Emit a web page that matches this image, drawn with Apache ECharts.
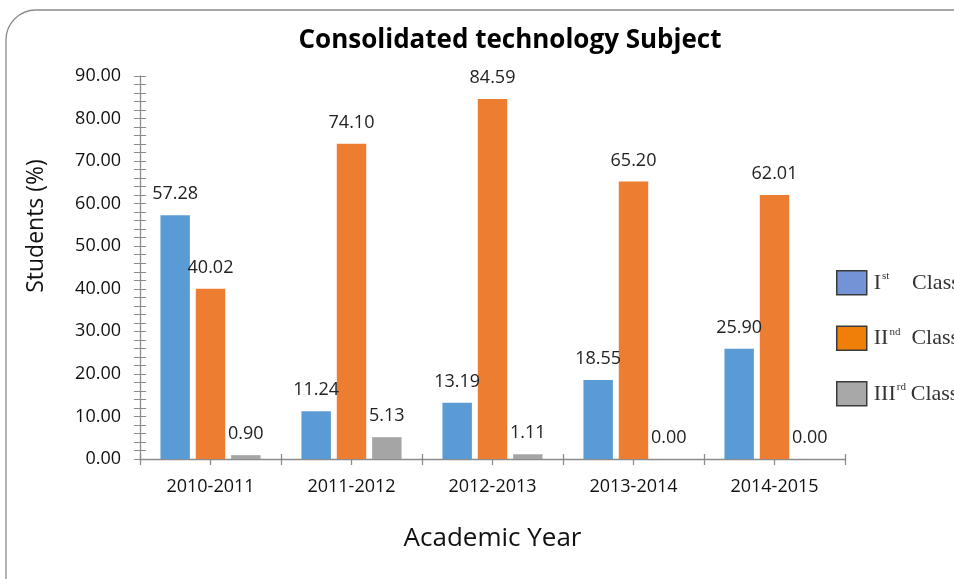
<!DOCTYPE html>
<html>
<head>
<meta charset="utf-8">
<script src="https://cdn.jsdelivr.net/npm/echarts@6/dist/echarts.min.js"></script>
<style>
  html, body { margin: 0; padding: 0; background: #fff; }
  #chart { width: 954px; height: 579px; }
</style>
</head>
<body>
<div id="chart"></div>
<script>
const years = ['2010-2011', '2011-2012', '2012-2013', '2013-2014', '2014-2015'];
const firstClass = [57.28, 11.24, 13.19, 18.55, 25.90];
const secondClass = [40.02, 74.10, 84.59, 65.20, 62.01];
const thirdClass = [0.90, 5.13, 1.11, 0.00, 0.00];
const seriesNames = ['Ist Class', 'IInd Class', 'IIIrd Class'];
const halfSlots = ['a', 'b', 'c', 'd', 'e', 'f', 'g', 'h', 'i', 'j'];

const chart = echarts.init(document.getElementById('chart'));

const axisGray = '#8c8c8c';
const labelFont = 'Open Sans';

const barLabel = {
  show: true,
  position: 'top',
  distance: 12,
  fontFamily: labelFont,
  fontSize: 18,
  color: '#222',
  formatter: (p) => p.value.toFixed(2),
};

// legend text: roman numeral + superscript + "Class"
const legendText = {
  'Ist Class': '{r|I}{s1|st}{c|Class}',
  'IInd Class': '{r|II}{s2|nd}{c|Class}',
  'IIIrd Class': '{r|III}{s3|rd}{c|Class}',
};
const supStyle = { fontFamily: 'Liberation Serif', fontSize: 11, color: '#333', verticalAlign: 'top', lineHeight: 24, padding: [0, 0, 10, 1] };

chart.setOption({
  backgroundColor: '#fff',
  animation: false,
  title: {
    text: 'Consolidated technology Subject',
    left: 505,
    top: 23,
    textAlign: 'center',
    textStyle: { fontFamily: labelFont, fontWeight: 'bold', fontSize: 26, color: '#000' },
  },
  legend: {
    orient: 'vertical',
    left: 831,
    top: 265,
    itemWidth: 30,
    itemHeight: 24,
    itemGap: 30,
    icon: 'rect',
    data: [
      { name: seriesNames[0], itemStyle: { color: '#7493d6', borderColor: '#3a3a3a', borderWidth: 1.5 } },
      { name: seriesNames[1], itemStyle: { color: '#f07f0a', borderColor: '#3a3a3a', borderWidth: 1.5 } },
      { name: seriesNames[2], itemStyle: { color: '#a8a8a8', borderColor: '#3a3a3a', borderWidth: 1.5 } },
    ],
    formatter: (name) => legendText[name],
    textStyle: {
      padding: [0, 0, 0, 2],
      rich: {
        r: { fontFamily: 'Liberation Serif', fontSize: 22, color: '#333', lineHeight: 24 },
        c: { fontFamily: 'Liberation Serif', fontSize: 22, color: '#333', lineHeight: 24 },
        s1: Object.assign({}, supStyle, { width: 30 }),
        s2: Object.assign({}, supStyle, { width: 22 }),
        s3: Object.assign({}, supStyle, { width: 14 }),
      },
    },
  },
  grid: { left: 140, right: 109, top: 76, bottom: 120 },
  xAxis: [
    {
      type: 'category',
      data: years,
      axisLine: { lineStyle: { color: axisGray, width: 1.3 } },
      axisTick: { show: false },
      axisLabel: { fontFamily: labelFont, fontSize: 18, color: '#111', margin: 19 },
      name: 'Academic Year',
      nameLocation: 'middle',
      nameGap: 67,
      nameTextStyle: { fontFamily: labelFont, fontSize: 26, color: '#111' },
    },
    {
      type: 'category',
      data: halfSlots,
      position: 'bottom',
      axisLine: { show: false },
      axisLabel: { show: false },
      axisTick: { show: true, length: 6, interval: 0, lineStyle: { color: axisGray, width: 1.3 } },
    },
    {
      type: 'category',
      data: halfSlots,
      position: 'bottom',
      axisLine: { show: false },
      axisLabel: { show: false },
      axisTick: { show: true, inside: true, length: 5, interval: 0, lineStyle: { color: axisGray, width: 1.3 } },
    },
  ],
  yAxis: [
    {
      type: 'value',
      min: 0,
      max: 90,
      interval: 10,
      axisLine: { show: true, lineStyle: { color: axisGray, width: 1.3 } },
      axisTick: { show: true, length: 6, lineStyle: { color: axisGray } },
      minorTick: { show: true, splitNumber: 5, length: 6, lineStyle: { color: axisGray } },
      splitLine: { show: false },
      axisLabel: { fontFamily: labelFont, fontSize: 18, color: '#111', margin: 19, formatter: (v) => v.toFixed(2) },
    },
    {
      type: 'value',
      min: 0,
      max: 90,
      interval: 10,
      position: 'left',
      axisLine: { show: false },
      axisTick: { show: true, inside: true, length: 6, lineStyle: { color: axisGray } },
      minorTick: { show: true, splitNumber: 5, length: 6, lineStyle: { color: axisGray } },
      splitLine: { show: false },
      axisLabel: { show: false },
    },
  ],
  series: [
    { name: seriesNames[0], type: 'bar', data: firstClass, itemStyle: { color: '#5b9bd5' }, barGap: '20%', barCategoryGap: '29%', label: barLabel },
    { name: seriesNames[1], type: 'bar', data: secondClass, itemStyle: { color: '#ed7d31' }, barGap: '20%', barCategoryGap: '29%', label: barLabel },
    { name: seriesNames[2], type: 'bar', data: thirdClass, itemStyle: { color: '#a5a5a5' }, barGap: '20%', barCategoryGap: '29%', label: barLabel },
  ],
  graphic: [
    {
      type: 'rect',
      shape: { x: 6, y: 10, width: 990, height: 600, r: 30 },
      style: { fill: 'none', stroke: '#8a8a8a', lineWidth: 1.3 },
      silent: true,
    },
    {
      type: 'text',
      x: 25,
      y: 226,
      rotation: Math.PI / 2,
      style: {
        text: 'Students (%)',
        fontFamily: labelFont,
        fontSize: 23,
        fill: '#111',
        align: 'center',
        verticalAlign: 'top',
      },
    },
  ],
});
</script>
</body>
</html>
